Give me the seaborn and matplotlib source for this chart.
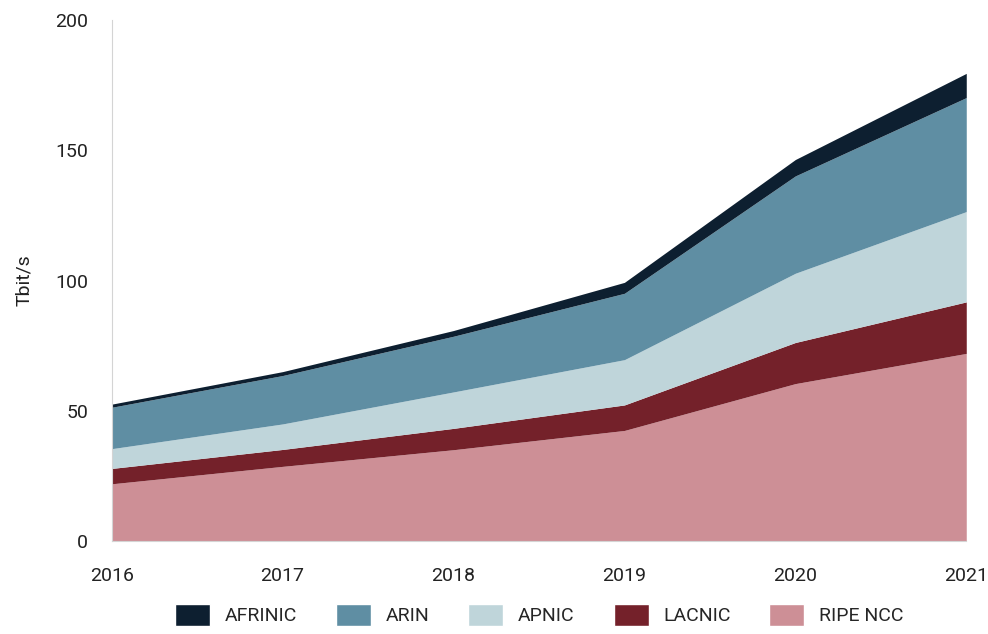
import matplotlib
matplotlib.use("Agg")
import matplotlib.pyplot as plt
import seaborn as sns
from matplotlib.patches import Patch

years = [2016, 2017, 2018, 2019, 2020, 2021]
regions = ["RIPE NCC", "LACNIC", "APNIC", "ARIN", "AFRINIC"]
ripe_ncc = [21.9, 28.6, 35.0, 42.4, 60.4, 72.0]
lacnic = [5.9, 6.5, 8.2, 9.8, 15.8, 19.8]
apnic = [7.6, 9.8, 14.0, 17.4, 26.6, 34.7]
arin = [15.9, 18.6, 21.4, 25.5, 37.4, 43.8]
afrinic = [1.2, 1.5, 2.2, 4.2, 6.3, 9.3]
colors = ["#cd8f96", "#74212a", "#bfd5da", "#5f8ea3", "#0d1f30"]
y_ticks = [0, 50, 100, 150, 200]

sns.set_style("white")
plt.rcParams["font.family"] = ["Roboto", "DejaVu Sans"]

fig, ax = plt.subplots(figsize=(9.88, 6.34), dpi=100)
fig.subplots_adjust(left=0.113, right=0.978, bottom=0.147, top=0.968)

ax.stackplot(years, ripe_ncc, lacnic, apnic, arin, afrinic,
             colors=colors, linewidth=0)

ax.set_xlim(years[0], years[-1])
ax.set_ylim(0, 200)
ax.set_xticks(years)
ax.set_yticks(y_ticks)
ax.tick_params(axis="both", length=0, labelsize=14, colors="#222222")
ax.tick_params(axis="x", pad=19)
ax.tick_params(axis="y", pad=17)
ax.set_ylabel("Tbit/s", fontsize=14, color="#222222", labelpad=16)

sns.despine(ax=ax, top=True, right=True)
ax.spines["left"].set_color("#d4d4d4")
ax.spines["bottom"].set_color("#d4d4d4")

handles = [Patch(facecolor=c, label=r) for c, r in zip(colors, regions)]
handles = handles[::-1]
fig.legend(handles=handles, loc="lower center", bbox_to_anchor=(0.546, -0.015),
           ncol=5, frameon=False, fontsize=14, handlelength=1.8,
           handleheight=1.4, columnspacing=2.0, handletextpad=0.75)

fig.savefig("out.png", dpi=100)
